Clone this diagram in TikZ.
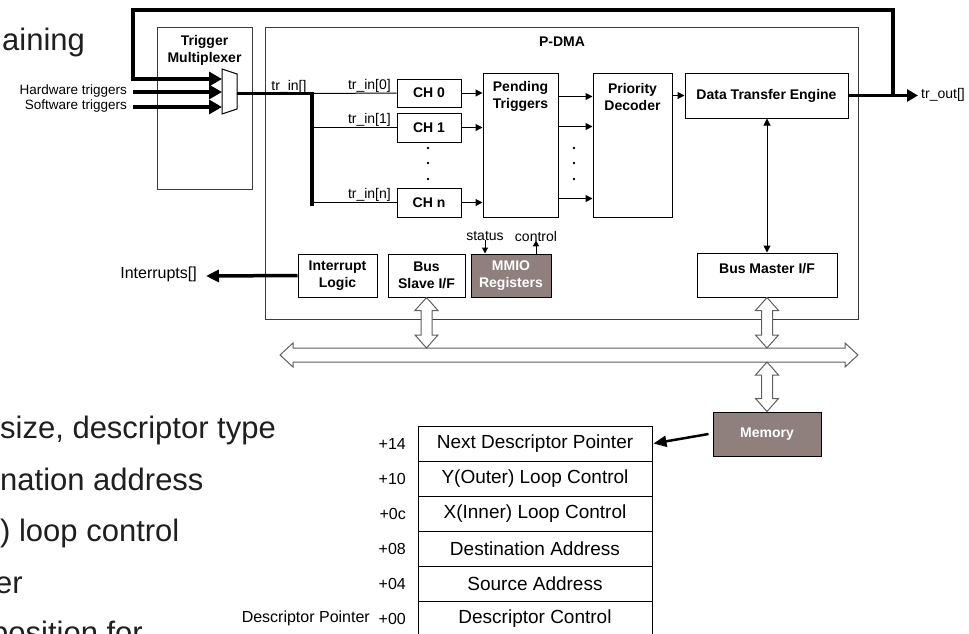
\documentclass[tikz,border=0pt]{standalone}
\usepackage{fontspec}
\setmainfont{Liberation Sans}
\usetikzlibrary{arrows.meta,calc}
\definecolor{regfill}{RGB}{143,128,126}
\definecolor{busgray}{RGB}{96,96,96}
\definecolor{framegray}{RGB}{60,60,60}
\newcommand\fsz[1]{\fontsize{#1}{#1}\selectfont}
\newcommand\fszl[2]{\fontsize{#1}{#2}\selectfont}

% hollow double-headed block arrow, vertical: #1 = top tip, #2 = bottom tip
\newcommand\vblockarrow[2]{%
  \draw[blockarrow] let \p1=(#1), \p2=(#2) in
    (\x1,\y1) -- (\x1+11.5pt,\y1-13pt) -- (\x1+5.5pt,\y1-13pt) -- (\x1+5.5pt,\y2+13pt)
    -- (\x1+11.5pt,\y2+13pt) -- (\x1,\y2) -- (\x1-11.5pt,\y2+13pt) -- (\x1-5.5pt,\y2+13pt)
    -- (\x1-5.5pt,\y1-13pt) -- (\x1-11.5pt,\y1-13pt) -- cycle;}
% hollow double-headed block arrow, horizontal: #1 = left tip, #2 = right tip
\newcommand\hblockarrow[2]{%
  \draw[blockarrow] let \p1=(#1), \p2=(#2) in
    (\x1,\y1) -- (\x1+13pt,\y1+12pt) -- (\x1+13pt,\y1+7pt) -- (\x2-13pt,\y1+7pt)
    -- (\x2-13pt,\y1+12pt) -- (\x2,\y1) -- (\x2-13pt,\y1-12pt) -- (\x2-13pt,\y1-7pt)
    -- (\x1+13pt,\y1-7pt) -- (\x1+13pt,\y1-12pt) -- cycle;}

\begin{document}
\begin{tikzpicture}[x=1pt,y=-1pt,
  blk/.style={draw=black, line width=1pt, inner sep=0pt, fill=white},
  frame/.style={draw=framegray, line width=1pt, inner sep=0pt},
  lbl/.style={inner sep=0pt, font=\fsz{14}},
  blbl/.style={inner sep=0pt, align=center, font=\bfseries\fszl{14}{17}},
  tarr/.style={line width=1pt, -{Triangle[length=7pt,width=7pt]}},
  smallarr/.style={line width=1pt, -{Triangle[length=6pt,width=6pt]}},
  bigin/.style={line width=3.5pt, -{Triangle[length=13pt,width=14pt]}},
  bigwire/.style={line width=3.5pt},
  bigout/.style={line width=3.5pt, -{Triangle[length=11pt,width=12pt]}},
  blockarrow/.style={draw=busgray, line width=1pt, fill=white},
  slide/.style={anchor=base west, inner sep=0pt, font=\fsz{31}, text=black!88},
  offs/.style={anchor=east, inner sep=0pt, font=\fsz{16}},
  row/.style={blk, minimum width=234pt, minimum height=35pt, font=\fsz{19}},
]
\useasboundingbox (0,0) rectangle (969,633);
\clip (0,0) rectangle (969,633);
\fill[white] (0,0) rectangle (969,633);

% slide text running behind the diagram
\node[slide] (s0) at (2,50) {aining};
\node[slide] (s1) at (0,438) {size, descriptor type};
\node[slide] (s2) at (0,490) {nation address};
\node[slide] (s3) at (0,541) {) loop control};
\node[slide] (s4) at (-5,593) {er};
\node[slide] (s5) at (-9,643) {position for};

% outer frames
\node[frame, minimum width=95pt, minimum height=162pt] (tmux) at (204.5,108) {};
\node[blbl] (tmuxtxt) at (204.5,50) {Trigger\\Multiplexer};
\node[frame, minimum width=593pt, minimum height=292pt] (pdma) at (561.5,173) {};
\node[blbl] (pdmatxt) at (562,42) {P-DMA};

% trigger multiplexer symbol
\draw[line width=1pt, fill=white] (222,69) -- (237,74) -- (237,109) -- (222,114) -- cycle;
\coordinate (mi1) at (222,79);
\coordinate (mi2) at (222,92);
\coordinate (mi3) at (222,107);
\coordinate (muxout) at (237,93.5);

\node[anchor=mid east, inner sep=0pt, font=\fsz{13.5}] (hw) at (127,92) {Hardware triggers};
\node[anchor=mid east, inner sep=0pt, font=\fsz{13.5}] (sw) at (127,107) {Software triggers};
\draw[bigin] ([xshift=6pt]hw.mid east) -- (mi2);
\draw[bigin] ([xshift=6pt]sw.mid east) -- (mi3);

% channels
\node[blk, minimum width=64pt, minimum height=28pt, font=\bfseries\fsz{14}] (ch0) at (429,93) {CH 0};
\node[blk, minimum width=64pt, minimum height=29pt, font=\bfseries\fsz{14}] (ch1) at (429,127.5) {CH 1};
\node[blk, minimum width=64pt, minimum height=29pt, font=\bfseries\fsz{14}] (chn) at (429,202.5) {CH n};

% trigger bus into the channels
\coordinate (trA) at (312,93.5);
\coordinate (trB) at (312,206);
\draw[bigwire] (muxout) -- (trA) -- (trB);
\node[lbl, anchor=base] (trlbl) at (289,90) {tr\_in[]};
\draw[line width=1pt] (trA) -- (ch0.west);
\draw[line width=1pt] (trA |- ch1.west) -- (ch1.west);
\draw[line width=1pt] (trA |- chn.west) -- (chn.west);
\node[lbl, anchor=base east] (t0) at (391,89) {tr\_in[0]};
\node[lbl, anchor=base east] (t1) at (391,123.5) {tr\_in[1]};
\node[lbl, anchor=base east] (tn) at (391,198.5) {tr\_in[n]};

% pending triggers and priority decoder
\node[blk, minimum width=75pt, minimum height=144pt] (pend) at (520.5,145) {};
\node[blbl] (pendtxt) at (520.5,96.5) {Pending\\Triggers};
\node[blk, minimum width=79pt, minimum height=144pt] (prio) at (632.5,145) {};
\node[blbl] (priotxt) at (632.5,96.5) {Priority\\Decoder};
\node[blk, minimum width=163pt, minimum height=45pt, font=\bfseries\fsz{14}] (dte) at (766.5,95.5) {Data Transfer Engine};

\draw[tarr] (ch0.east) -- (ch0.east -| pend.west);
\draw[tarr] (ch1.east) -- (ch1.east -| pend.west);
\draw[tarr] (chn.east) -- (chn.east -| pend.west);
\draw[tarr] ($(pend.north east)+(0,24)$) -- ($(prio.north west)+(0,24)$);
\draw[tarr] ($(pend.north east)+(0,54)$) -- ($(prio.north west)+(0,54)$);
\draw[tarr] ($(pend.north east)+(0,126)$) -- ($(prio.north west)+(0,126)$);
\draw[tarr] ($(prio.north east)+(0,23)$) -- ($(dte.north west)+(0,23)$);

\foreach \yy in {148,163,179} {
  \fill (428,\yy) circle (1.3pt);
  \fill (574,\yy) circle (1.3pt);
}

% trigger outputs and the feedback loop into the multiplexer
\node[anchor=mid west, inner sep=0pt, font=\fsz{14}] (trout) at (921,95.5) {tr\_out[]};
\coordinate (jn) at (893,95.5);
\coordinate (lp) at (133,10);
\draw[bigin] (jn) |- (lp) |- (mi1);
\draw[bigout] (dte.east) -- ([xshift=-3pt]trout.mid west);

% lower row of blocks
\node[blk, minimum width=79pt, minimum height=43pt, align=center, font=\bfseries\fszl{14}{17}] (il) at (337.5,275.5) {Interrupt\\Logic};
\node[blk, minimum width=77pt, minimum height=43pt, align=center, font=\bfseries\fszl{14}{17}] (bs) at (426.5,275.5) {Bus\\Slave I/F};
\node[blk, fill=regfill, minimum width=80pt, minimum height=43pt, align=center, text=white, font=\bfseries\fszl{14}{17}] (mmio) at (511,275.5) {MMIO\\Registers};
\node[blk, minimum width=140pt, minimum height=44pt] (bm) at (767,275) {};
\node[blbl] (bmtxt) at (767,269) {Bus Master I/F};

\node[anchor=mid east, inner sep=0pt, font=\fsz{16}] (intr) at (197,276) {Interrupts[]};
\draw[line width=3.5pt, -{Triangle[length=13pt,width=12pt]}] (il.west) -- ([xshift=9pt]intr.mid east);

\node[lbl] (st) at (485,236) {status};
\node[lbl] (ctl) at (536,236) {control};
\draw[smallarr] ([yshift=1pt]st.south) -- (st.south |- mmio.north);
\draw[smallarr] (ctl.south |- mmio.north) -- ([yshift=1pt]ctl.south);

\draw[line width=1pt, {Triangle[length=7pt,width=7pt]}-{Triangle[length=7pt,width=7pt]}] (bm.north) -- (bm.north |- dte.south);

% system bus
\coordinate (busL) at (280,355);
\coordinate (busR) at (858,355);
\coordinate (bustop) at (0,348);
\coordinate (busbot) at (0,362);
\hblockarrow{busL}{busR}
\vblockarrow{bs.south}{bs.south |- bustop}
\vblockarrow{bm.south}{bm.south |- bustop}

% memory and descriptor layout
\node[blk, fill=regfill, minimum width=108pt, minimum height=44pt, text=white, font=\bfseries\fsz{14}] (mem) at (767,434) {Memory};
\vblockarrow{mem.north |- busbot}{mem.north}

\node[row] (r0) at (535,443.5) {Next Descriptor Pointer};
\node[row] (r1) at (535,478.5) {Y(Outer) Loop Control};
\node[row] (r2) at (535,513.5) {X(Inner) Loop Control};
\node[row] (r3) at (535,548.5) {Destination Address};
\node[row] (r4) at (535,583.5) {Source Address};
\node[row] (r5) at (535,618.5) {Descriptor Control};

\node[offs] (o0) at (406,443.5) {+14};
\node[offs] (o1) at (406,478.5) {+10};
\node[offs] (o2) at (406,513.5) {+0c};
\node[offs] (o3) at (406,548.5) {+08};
\node[offs] (o4) at (406,583.5) {+04};
\node[offs] (o5) at (406,618.5) {+00};
\node[offs] (dp) at (370,618.5) {Descriptor Pointer};

\draw[line width=2.5pt, -{Triangle[length=13pt,width=11pt]}] ([xshift=-4pt]mem.west) -- ([xshift=1pt]r0.east);
\end{tikzpicture}
\end{document}
